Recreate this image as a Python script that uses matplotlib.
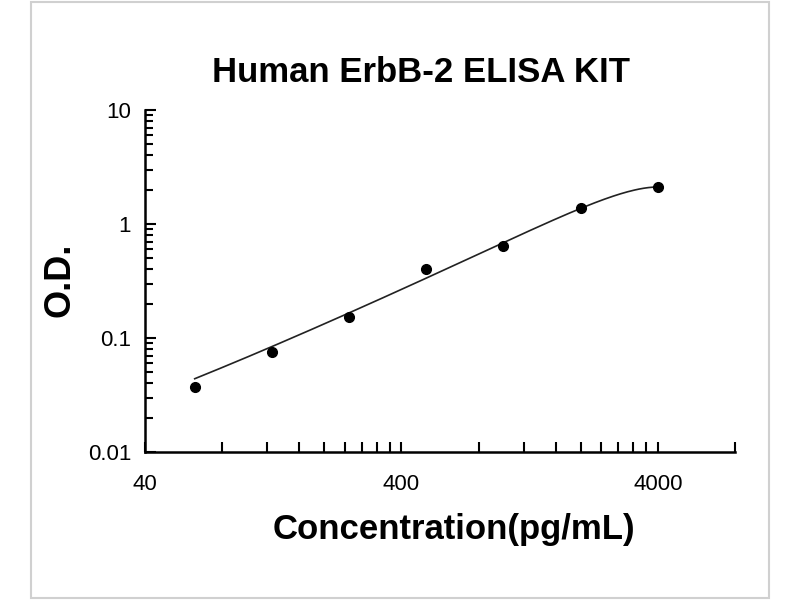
import matplotlib.pyplot as plt
import numpy as np
from matplotlib.patches import Rectangle
from matplotlib.ticker import FixedLocator, FixedFormatter, NullFormatter

# standard concentrations (pg/mL) and measured O.D.
conc = [62.5, 125, 250, 500, 1000, 2000, 4000]
od = [0.037, 0.075, 0.153, 0.40, 0.64, 1.38, 2.11]

x_major = [40, 400, 4000]
x_major_labels = ["40", "400", "4000"]
x_minor = [80, 120, 160, 200, 240, 280, 320, 360,
           800, 1200, 1600, 2000, 2400, 2800, 3200, 3600, 8000]
y_major = [0.01, 0.1, 1, 10]
y_major_labels = ["0.01", "0.1", "1", "10"]


def main() -> None:
    plt.rcParams["font.family"] = ["Liberation Sans", "DejaVu Sans"]
    fig = plt.figure(figsize=(8, 6), dpi=100)
    ax = fig.add_axes([0.18125, 0.2467, 0.7375, 0.57])

    # trend line: cubic polynomial fitted on the linear values
    coef = np.polyfit(conc, od, 3)
    xs = np.logspace(np.log10(conc[0]), np.log10(conc[-1]), 200)
    ax.plot(xs, np.polyval(coef, xs), color="#222222", linewidth=1.2)
    ax.plot(conc, od, "o", color="black", markersize=7)

    ax.set_xscale("log")
    ax.set_yscale("log")
    ax.set_xlim(40, 8000)
    ax.set_ylim(0.01, 10)

    ax.xaxis.set_major_locator(FixedLocator(x_major))
    ax.xaxis.set_major_formatter(FixedFormatter(x_major_labels))
    ax.xaxis.set_minor_locator(FixedLocator(x_minor))
    ax.xaxis.set_minor_formatter(NullFormatter())
    ax.yaxis.set_major_locator(FixedLocator(y_major))
    ax.yaxis.set_major_formatter(FixedFormatter(y_major_labels))

    ax.tick_params(which="both", direction="in", width=1.5, labelsize=16)
    ax.tick_params(axis="x", which="both", length=7, pad=16)
    ax.tick_params(axis="y", which="major", length=8, pad=10)
    ax.tick_params(axis="y", which="minor", length=6)

    for side in ("top", "right"):
        ax.spines[side].set_visible(False)
    for side in ("left", "bottom"):
        ax.spines[side].set_linewidth(1.8)

    fig.text(421 / 800, 1 - 72 / 600, "Human ErbB-2 ELISA KIT", fontsize=25,
             fontweight="bold", ha="center", va="center")
    fig.text(454 / 800, 1 - 530 / 600, "Concentration(pg/mL)", fontsize=25,
             fontweight="bold", ha="center", va="center")
    fig.text(60 / 800, 1 - 280 / 600, "O.D.", fontsize=26, fontweight="bold",
             ha="center", va="center", rotation=90)

    # light frame around the figure
    fig.patches.append(Rectangle((0.039, 0.003), 0.922, 0.994, transform=fig.transFigure,
                                 fill=False, edgecolor="#d0d0d0", linewidth=1.5))

    fig.savefig("out.png", dpi=100)
    plt.close(fig)


if __name__ == "__main__":
    main()
